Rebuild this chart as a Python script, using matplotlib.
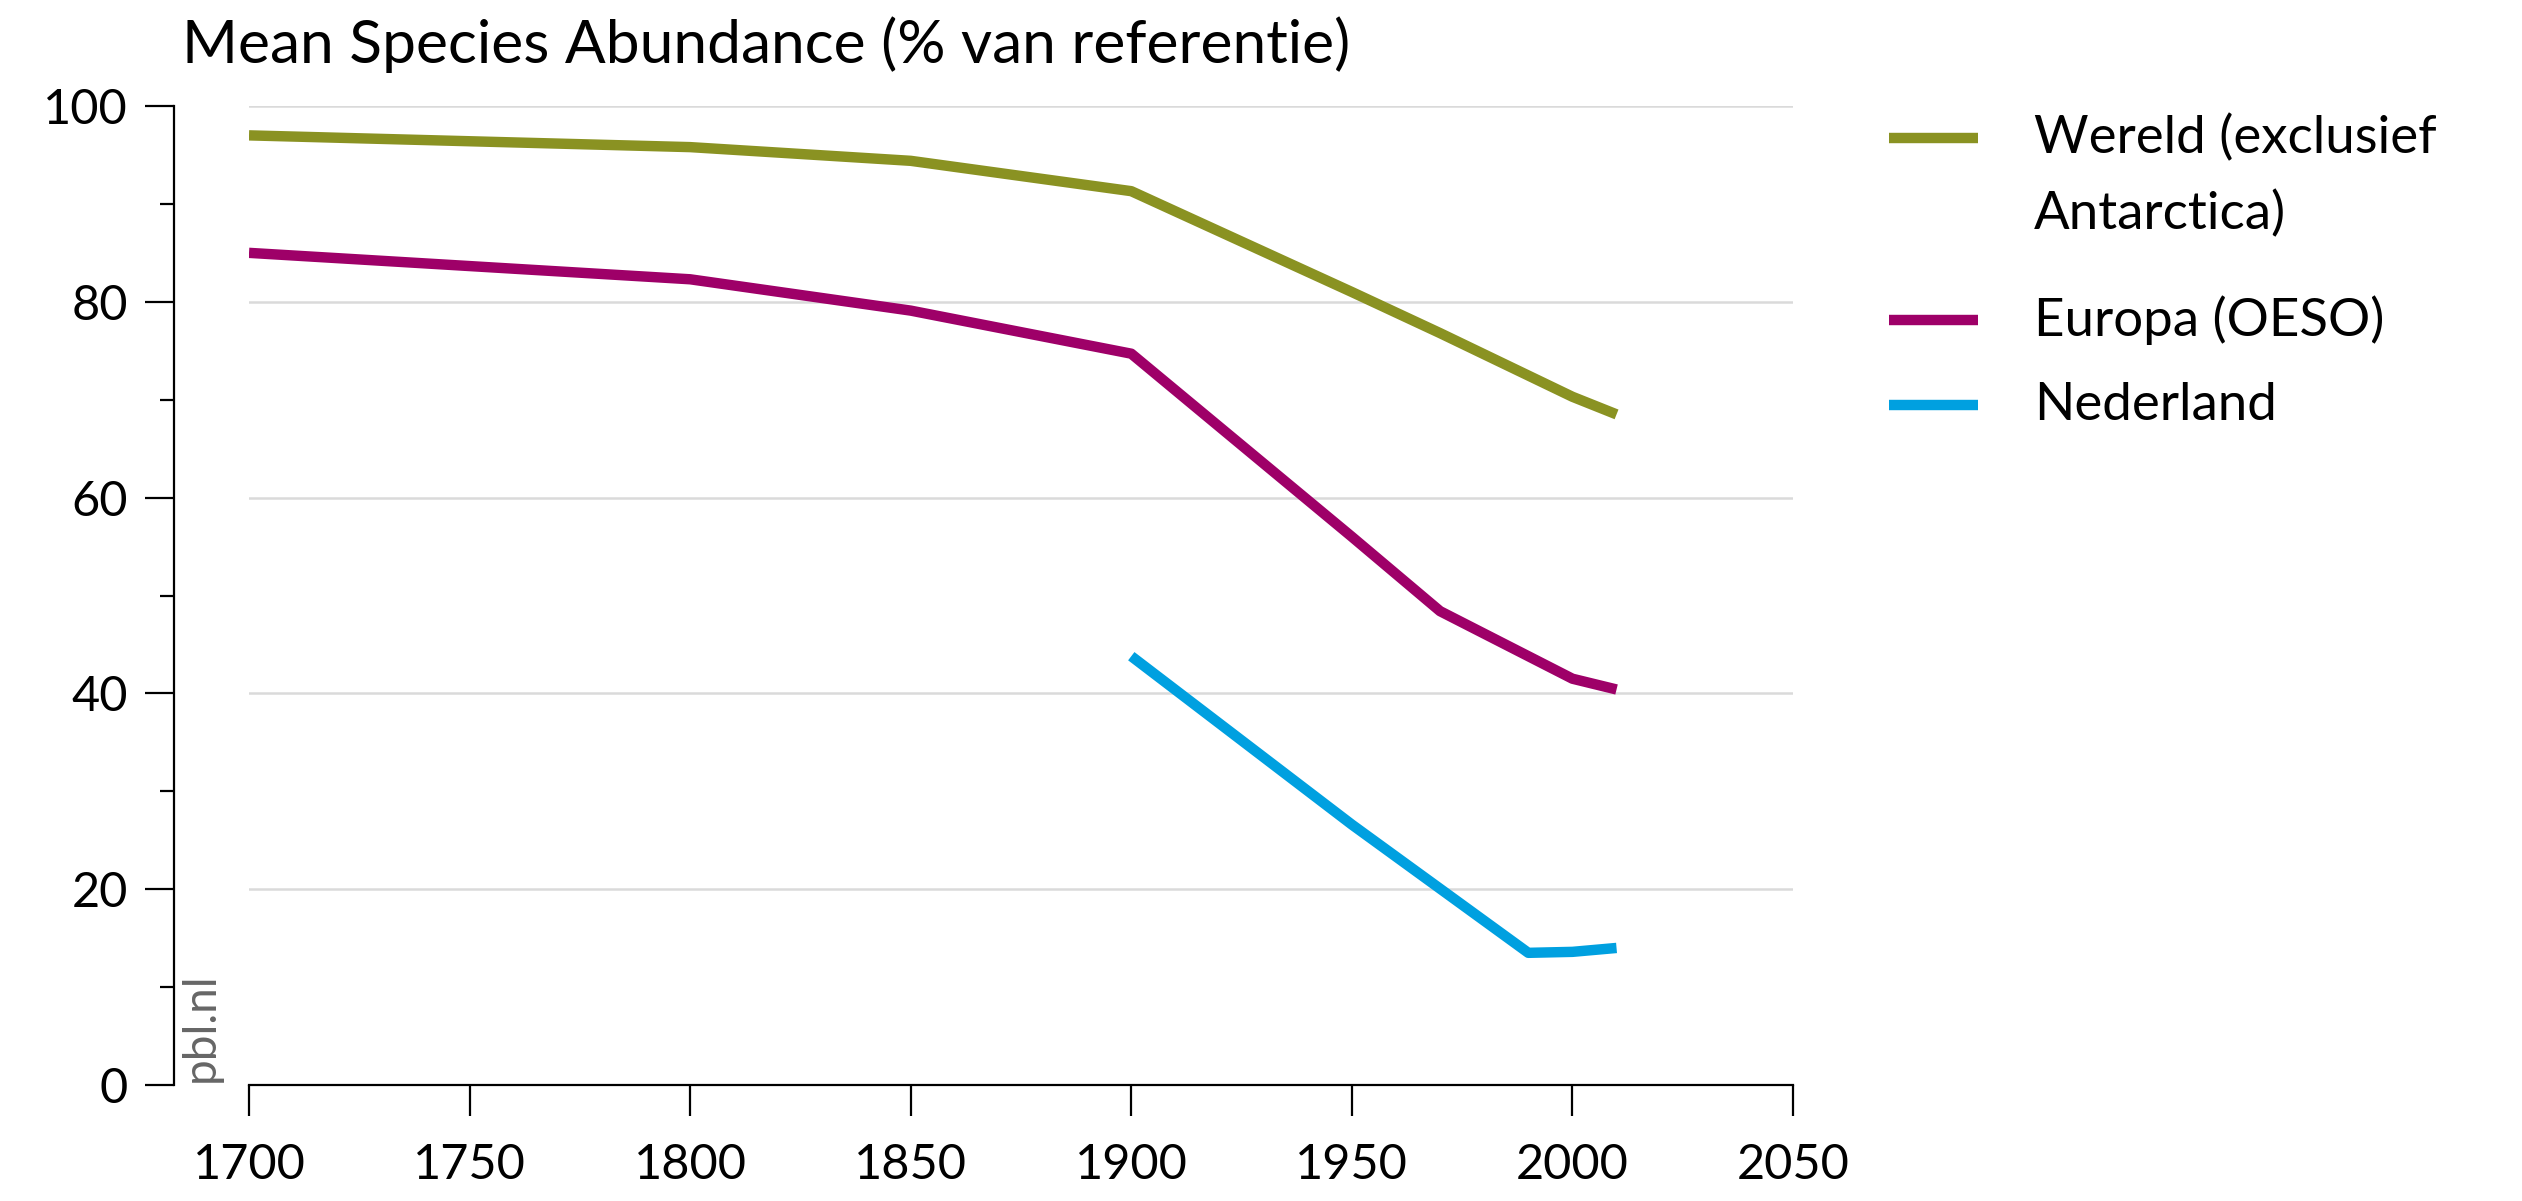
import numpy as np
import matplotlib.pyplot as plt
from matplotlib.lines import Line2D

plt.rcParams['font.family'] = ['Lato', 'DejaVu Sans']

# waarden
jaren_wereld = [1700, 1800, 1850, 1900, 1950, 1970, 2000, 2010]
wereld = [97, 95.8, 94.4, 91.3, 81, 76.8, 70.3, 68.5]

jaren_europa = [1700, 1800, 1850, 1900, 1950, 1970, 2000, 2010]
europa = [85, 82.3, 79.1, 74.7, 56, 48.4, 41.5, 40.4]

jaren_nl = [1900, 1950, 1990, 2000, 2010]
nederland = [43.8, 26.6, 13.5, 13.6, 14.0]

labels = ['Wereld (exclusief\nAntarctica)', 'Europa (OESO)', 'Nederland']
kleuren = ['#8a9222', '#9e0068', '#00a0e0']

W, H = 2522, 1201
fig = plt.figure(figsize=(W / 100, H / 100), dpi=100)
ax = fig.add_axes([249 / W, 1 - 1085 / H, (1793 - 249) / W, (1085 - 106) / H])

lw = 7.5
ax.plot(jaren_wereld, wereld, color=kleuren[0], lw=lw, solid_capstyle='butt', zorder=3)
ax.plot(jaren_europa, europa, color=kleuren[1], lw=lw, solid_capstyle='butt', zorder=3)
ax.plot(jaren_nl, nederland, color=kleuren[2], lw=lw, solid_capstyle='butt', zorder=3)

ax.set_xlim(1700, 2050)
ax.set_ylim(0, 100)
ax.set_xticks(np.arange(1700, 2051, 50))
ax.set_yticks(np.arange(0, 101, 20))
ax.set_yticks(np.arange(10, 100, 20), minor=True)

for y in range(20, 101, 20):
    ax.axhline(y, color='#dadada', lw=1.8, zorder=1)

for s in ['top', 'right']:
    ax.spines[s].set_visible(False)
ax.spines['left'].set_position(('outward', 54))
ax.spines['left'].set_bounds(0, 100)
ax.spines['bottom'].set_bounds(1700, 2050)
ax.spines['left'].set_linewidth(1.6)
ax.spines['bottom'].set_linewidth(1.6)

ax.tick_params(axis='x', direction='out', length=22, width=1.6, pad=20, labelsize=35)
ax.tick_params(axis='y', which='major', direction='out', length=21, width=1.6, pad=12, labelsize=35)
ax.tick_params(axis='y', which='minor', direction='out', length=10, width=1.6)

fig.text(182 / W, 1 - 45 / H, 'Mean Species Abundance (% van referentie)',
         fontsize=43.5, va='center', ha='left')

fig.text(201 / W, 1 - 1082 / H, 'pbl.nl', rotation=90, fontsize=33,
         color='#666666', ha='center', va='bottom')

# legenda
leg_y = [138, 320, 405]
for k, lab, yy in zip(kleuren, labels, leg_y):
    fig.add_artist(Line2D([1889 / W, 1978 / W], [1 - yy / H, 1 - yy / H],
                          color=k, lw=lw, solid_capstyle='butt'))
    for i, regel in enumerate(lab.split('\n')):
        fig.text(2034 / W, 1 - (yy + i * 76) / H, regel, fontsize=38,
                 va='center', ha='left')

fig.savefig('out.png', dpi=100, facecolor='white')
